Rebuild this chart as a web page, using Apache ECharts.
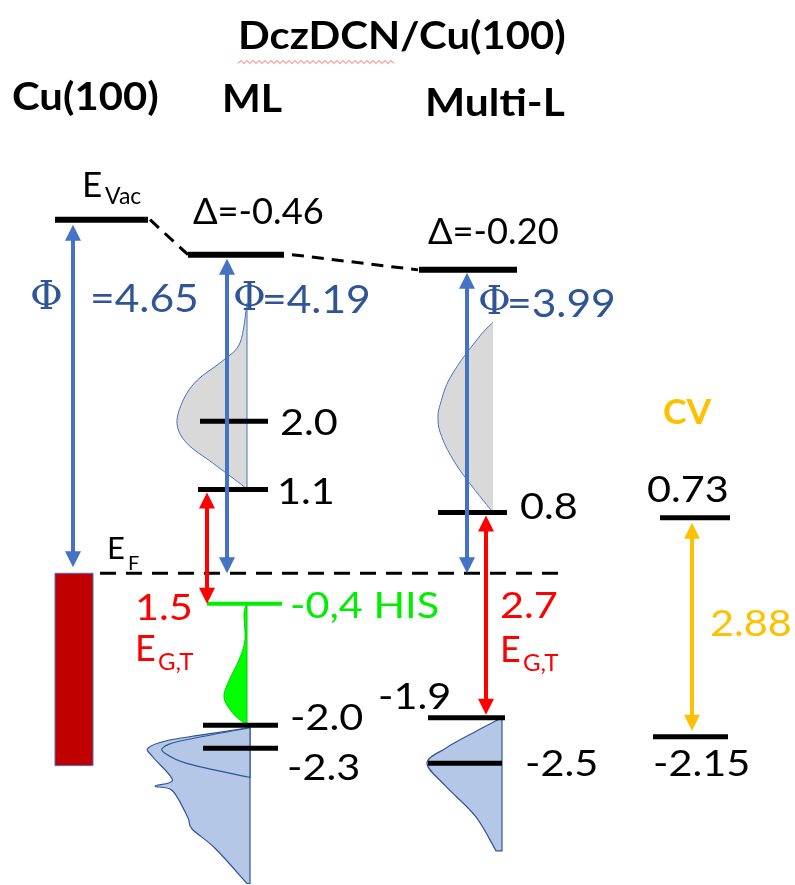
<!DOCTYPE html>
<html>
<head>
<meta charset="utf-8">
<title>DczDCN/Cu(100) energy levels</title>
<script src="https://cdn.jsdelivr.net/npm/echarts@6/dist/echarts.min.js"></script>
<style>
html,body{margin:0;padding:0;background:#ffffff;}
#chart{width:795px;height:885px;}
</style>
</head>
<body>
<div id="chart"></div>
<script>
// ================= DATA (energies in eV, relative to E_F) =================
const titleText = 'DczDCN/Cu(100)';
const columnNames = ['Cu(100)', 'ML', 'Multi-L'];
const vacuumLevels = [4.65, 4.19, 3.99];
const workFunctionLabels = ['=4.65', '=4.19', '=3.99'];
const vacuumShiftLabels = ['Δ=-0.46', 'Δ=-0.20'];
const fermiLevel = 0;
const cuBandBottom = -2.53;
const mlLevels = [2.0, 1.1, -0.4, -2.0, -2.3];
const mlLabels = ['2.0', '1.1', '-0,4 HIS', '-2.0', '-2.3'];
const multiLevels = [0.8, -1.9, -2.5];
const multiLabels = ['0.8', '-1.9', '-2.5'];
const cvLevels = [0.73, -2.15];
const cvLabels = ['0.73', '-2.15'];
const gapLabels = ['1.5', '2.7', '2.88'];

// DOS shapes: energy (eV) and relative intensity
const mlUnoccE = [3.55, 3.03, 2.80, 2.54, 2.28, 1.97, 1.71, 1.45, 1.18, 1.1];
const mlUnoccI = [0, 0.10, 0.34, 0.71, 0.91, 1.0, 0.86, 0.49, 0.10, 0];
const multiUnoccE = [3.3, 3.12, 2.57, 2.22, 2.06, 1.85, 1.50, 1.18, 0.8];
const multiUnoccI = [0, 0.24, 0.78, 0.96, 1.0, 0.96, 0.73, 0.42, 0];
const mlHisE = [-0.4, -0.53, -0.88, -1.14, -1.41, -1.63, -1.83, -1.96, -2.0];
const mlHisI = [0, 0.13, 0.09, 0.35, 0.78, 1.0, 0.65, 0.17, 0];
const mlOccE = [-2.03, -2.13, -2.2, -2.3, -2.42, -2.72, -2.8, -2.86, -3.21, -3.36, -3.62, -4.08];
const mlOccI = [0, 0.49, 0.81, 1.0, 0.95, 0.76, 0.93, 0.76, 0.61, 0.57, 0.34, 0.03];
const mlOcc2E = [-2.03, -2.2, -2.29, -2.37, -2.5, -2.68];
const mlOcc2I = [0, 0.66, 0.85, 0.83, 0.62, 0.02];
const multiOccE = [-1.9, -2.08, -2.3, -2.5, -2.8, -3.2, -3.65];
const multiOccI = [0, 0.35, 0.75, 1.0, 0.75, 0.35, 0.08];

// ================= LAYOUT / STYLE =================
const C = {
  black: '#000000', blue: '#4472C4', phi: '#2F5597', red: '#FF0000', green: '#00EE00',
  orange: '#FFC000', cu: '#C00000', gray: '#D9D9D9', dosBlue: '#B4C7E7', dosLine: '#2F5597'
};
const FONT = 'Lato, "Open Sans", "DejaVu Sans", sans-serif';
const SERIF = '"DejaVu Serif", "Liberation Serif", serif';
const SX = 1.12; // horizontal stretch of the reference's text

const dosList = [
  { E: mlUnoccE, I: mlUnoccI, base: 247, width: 70, fill: C.gray, stroke: C.blue, lw: 1 },
  { E: multiUnoccE, I: multiUnoccI, base: 493, width: 55, fill: C.gray, stroke: C.blue, lw: 1, noEdge: true },
  { E: mlHisE, I: mlHisI, base: 247, width: 23, fill: '#00FF00', stroke: '#00D000', lw: 1 },
  { E: mlOccE, I: mlOccI, base: 250, width: 102, fill: C.dosBlue, stroke: C.dosLine, lw: 1.2 },
  { E: mlOcc2E, I: mlOcc2I, base: 250, width: 102, fill: C.dosBlue, stroke: C.dosLine, lw: 1.2 },
  { E: multiOccE, I: multiOccI, base: 502, width: 75, fill: C.dosBlue, stroke: C.dosLine, lw: 1.2 }
];

const segments = [];
const vacX = [[55, 148], [188, 284], [419, 517]];
vacuumLevels.forEach((e, i) => segments.push({ x1: vacX[i][0], x2: vacX[i][1], e1: e, e2: e, color: C.black, w: 6 }));
const mlX = [[200, 268], [198, 268], [207, 282], [203, 278], [203, 278]];
mlLevels.forEach((e, i) => segments.push({ x1: mlX[i][0], x2: mlX[i][1], e1: e, e2: e, color: i === 2 ? C.green : C.black, w: i === 2 ? 4 : 5 }));
const multiX = [[438, 507], [428, 505], [428, 502]];
multiLevels.forEach((e, i) => segments.push({ x1: multiX[i][0], x2: multiX[i][1], e1: e, e2: e, color: C.black, w: 5 }));
const cvX = [[660, 730], [653, 728]];
cvLevels.forEach((e, i) => segments.push({ x1: cvX[i][0], x2: cvX[i][1], e1: e, e2: e, color: C.black, w: 5 }));
segments.push({ x1: 100, x2: 566, e1: fermiLevel, e2: fermiLevel, color: C.black, w: 3, dash: [16, 10] });
segments.push({ x1: 150, x2: 188, e1: vacuumLevels[0], e2: vacuumLevels[1], color: C.black, w: 3, dash: [12, 8] });
segments.push({ x1: 292, x2: 418, e1: vacuumLevels[1], e2: vacuumLevels[2], color: C.black, w: 3, dash: [12, 8] });

const arrows = [
  { x: 73, e1: vacuumLevels[0], e2: fermiLevel, color: C.blue, g1: 5, g2: 6 },
  { x: 227, e1: vacuumLevels[1], e2: fermiLevel, color: C.blue, g1: 4, g2: 0 },
  { x: 467, e1: vacuumLevels[2], e2: fermiLevel, color: C.blue, g1: 3, g2: 0 },
  { x: 207, e1: mlLevels[1], e2: mlLevels[2], color: C.red, g1: 3, g2: 0 },
  { x: 486, e1: multiLevels[0], e2: multiLevels[1], color: C.red, g1: 3, g2: 3 },
  { x: 692, e1: cvLevels[0], e2: cvLevels[1], color: C.orange, g1: 5, g2: 6 }
];

// text labels anchored to energies (x, energy, pixel offset)
const T = (x, e, dy, text, color, size, opt) => Object.assign({ x, e, dy, text, color, size, sx: SX }, opt || {});
const texts = [];
mlLabels.forEach((t, i) => {
  const lay = [[280, 2], [277, 2], [290, 2], [290, -7], [287, 20]][i];
  texts.push(T(lay[0], mlLevels[i], lay[1], t, i === 2 ? C.green : C.black, 37));
});
multiLabels.forEach((t, i) => {
  const lay = [[520, -5], [378, -21], [525, 1]][i];
  texts.push(T(lay[0], multiLevels[i], lay[1], t, C.black, 37));
});
cvLabels.forEach((t, i) => {
  const lay = [[647, -28], [653, 27]][i];
  texts.push(T(lay[0], cvLevels[i], lay[1], t, C.black, 37));
});
// work functions
const phiLay = [[30, 90, 80], [233, 262, 46], [478, 507, 35]];
workFunctionLabels.forEach((t, i) => {
  texts.push(T(phiLay[i][0], vacuumLevels[i], phiLay[i][2] - 1, 'Φ', C.phi, 40, { family: SERIF, sx: 1 }));
  texts.push(T(phiLay[i][1], vacuumLevels[i], phiLay[i][2], t, C.phi, 38));
});
// vacuum shifts
texts.push(T(193, vacuumLevels[1], -43, vacuumShiftLabels[0], C.black, 37, { sx: 0.98 }));
texts.push(T(428, vacuumLevels[2], -38, vacuumShiftLabels[1], C.black, 37, { sx: 0.98 }));
// E_vac, E_F
texts.push(T(82, vacuumLevels[0], -34, 'E', C.black, 35, { sx: 1 }));
texts.push(T(105, vacuumLevels[0], -23, 'Vac', C.black, 23, { sx: 1 }));
texts.push(T(107, fermiLevel, -24, 'E', C.black, 31, { sx: 1 }));
texts.push(T(128, fermiLevel, -10, 'F', C.black, 20, { sx: 1 }));
// gaps
texts.push(T(135, fermiLevel, 35, gapLabels[0], C.red, 37));
texts.push(T(135, fermiLevel, 76, 'E', C.red, 36, { sx: 1 }));
texts.push(T(158, fermiLevel, 89, 'G,T', C.red, 24, { sx: 1 }));
texts.push(T(500, fermiLevel, 33, gapLabels[1], C.red, 37));
texts.push(T(500, fermiLevel, 77, 'E', C.red, 36, { sx: 1 }));
texts.push(T(523, fermiLevel, 90, 'G,T', C.red, 24, { sx: 1 }));
texts.push(T(710, fermiLevel, 51, gapLabels[2], C.orange, 37));
texts.push(T(663, cvLevels[0], -105, 'CV', C.orange, 34, { weight: 'bold', sx: 1.05 }));

// ================= CHART =================
function coordPath(api, d) {
  const pts = d.E.map((e, i) => api.coord([d.base - d.width * d.I[i], e]));
  let p = 'M' + pts[0][0] + ' ' + pts[0][1];
  for (let i = 0; i < pts.length - 1; i++) {
    const p0 = pts[Math.max(i - 1, 0)], p1 = pts[i], p2 = pts[i + 1], p3 = pts[Math.min(i + 2, pts.length - 1)];
    const c1 = [p1[0] + (p2[0] - p0[0]) / 6, p1[1] + (p2[1] - p0[1]) / 6];
    const c2 = [p2[0] - (p3[0] - p1[0]) / 6, p2[1] - (p3[1] - p1[1]) / 6];
    p += ' C' + c1[0] + ' ' + c1[1] + ' ' + c2[0] + ' ' + c2[1] + ' ' + p2[0] + ' ' + p2[1];
  }
  const b1 = api.coord([d.base, d.E[d.E.length - 1]]), b0 = api.coord([d.base, d.E[0]]);
  p += ' L' + b1[0] + ' ' + b1[1] + ' L' + b0[0] + ' ' + b0[1] + ' Z';
  return p;
}

const HEAD = 'bold 38px ' + FONT;
const chart = echarts.init(document.getElementById('chart'), null, { renderer: 'canvas' });
chart.setOption({
  animation: false,
  backgroundColor: '#ffffff',
  grid: { left: 0, right: 0, top: 41, bottom: 0 },
  xAxis: { type: 'value', min: 0, max: 795, show: false },
  yAxis: { type: 'value', min: -4.1, max: 7, show: false },
  graphic: [
    { type: 'text', x: 238, y: 18, scaleX: 1.1, style: { text: titleText, font: HEAD, fill: '#000' } },
    { type: 'polyline', shape: { points: Array.from({ length: 53 }, (_, i) => [238 + i * 3, 62 + (i % 2 ? -1.5 : 1.5)]) }, style: { stroke: '#FF6060', lineWidth: 1 } },
    { type: 'text', x: 12, y: 79, scaleX: 1.1, style: { text: columnNames[0], font: HEAD, fill: '#000' } },
    { type: 'text', x: 222, y: 81, scaleX: 1.08, style: { text: columnNames[1], font: HEAD, fill: '#000' } },
    { type: 'text', x: 425, y: 85, scaleX: 1.12, style: { text: columnNames[2], font: HEAD, fill: '#000' } }
  ],
  series: [
    {
      type: 'custom', z: 1,
      data: dosList.map(d => [d.base, d.E[0]]),
      renderItem: (p, api) => {
        const d = dosList[p.dataIndex];
        return { type: 'path', shape: { pathData: coordPath(api, d) }, style: { fill: d.fill, stroke: d.noEdge ? null : d.stroke, lineWidth: d.lw } };
      }
    },
    {
      type: 'custom', z: 2,
      data: dosList.map(d => [d.base, d.E[0]]),
      renderItem: (p, api) => {
        const d = dosList[p.dataIndex];
        if (!d.noEdge) return null;
        const pts = d.E.map((e, i) => api.coord([d.base - d.width * d.I[i], e]));
        return { type: 'polyline', shape: { points: pts, smooth: 0.4 }, style: { stroke: d.stroke, lineWidth: d.lw, fill: null } };
      }
    },
    {
      type: 'custom', z: 3,
      data: [[55, fermiLevel]],
      renderItem: (p, api) => {
        const a = api.coord([55, fermiLevel]), b = api.coord([93, cuBandBottom]);
        return { type: 'rect', shape: { x: a[0], y: a[1], width: b[0] - a[0], height: b[1] - a[1] }, style: { fill: C.cu, stroke: C.blue, lineWidth: 1 } };
      }
    },
    {
      type: 'custom', z: 4,
      data: segments.map(s => [s.x1, s.e1]),
      renderItem: (p, api) => {
        const s = segments[p.dataIndex];
        const a = api.coord([s.x1, s.e1]), b = api.coord([s.x2, s.e2]);
        return { type: 'line', shape: { x1: a[0], y1: a[1], x2: b[0], y2: b[1] }, style: { stroke: s.color, lineWidth: s.w, lineDash: s.dash || null } };
      }
    },
    {
      type: 'custom', z: 5,
      data: arrows.map(a => [a.x, a.e1]),
      renderItem: (p, api) => {
        const ar = arrows[p.dataIndex];
        const a = api.coord([ar.x, ar.e1]), b = api.coord([ar.x, ar.e2]);
        const h = 16, hw = 8, x = a[0];
        const top = a[1] + ar.g1, bot = b[1] - ar.g2;
        return {
          type: 'group', children: [
            { type: 'line', shape: { x1: x, y1: top + h - 2, x2: x, y2: bot - h + 2 }, style: { stroke: ar.color, lineWidth: 4 } },
            { type: 'polygon', shape: { points: [[x, top], [x - hw, top + h], [x + hw, top + h]] }, style: { fill: ar.color } },
            { type: 'polygon', shape: { points: [[x, bot], [x - hw, bot - h], [x + hw, bot - h]] }, style: { fill: ar.color } }
          ]
        };
      }
    },
    {
      type: 'custom', z: 6,
      data: texts.map(t => [t.x, t.e]),
      renderItem: (p, api) => {
        const t = texts[p.dataIndex];
        const c = api.coord([t.x, t.e]);
        return {
          type: 'text', x: c[0], y: c[1] + t.dy, scaleX: t.sx,
          style: {
            text: t.text, fill: t.color,
            font: (t.weight || 'normal') + ' ' + t.size + 'px ' + (t.family || FONT),
            align: 'left', verticalAlign: 'middle'
          }
        };
      }
    }
  ]
});
</script>
</body>
</html>
